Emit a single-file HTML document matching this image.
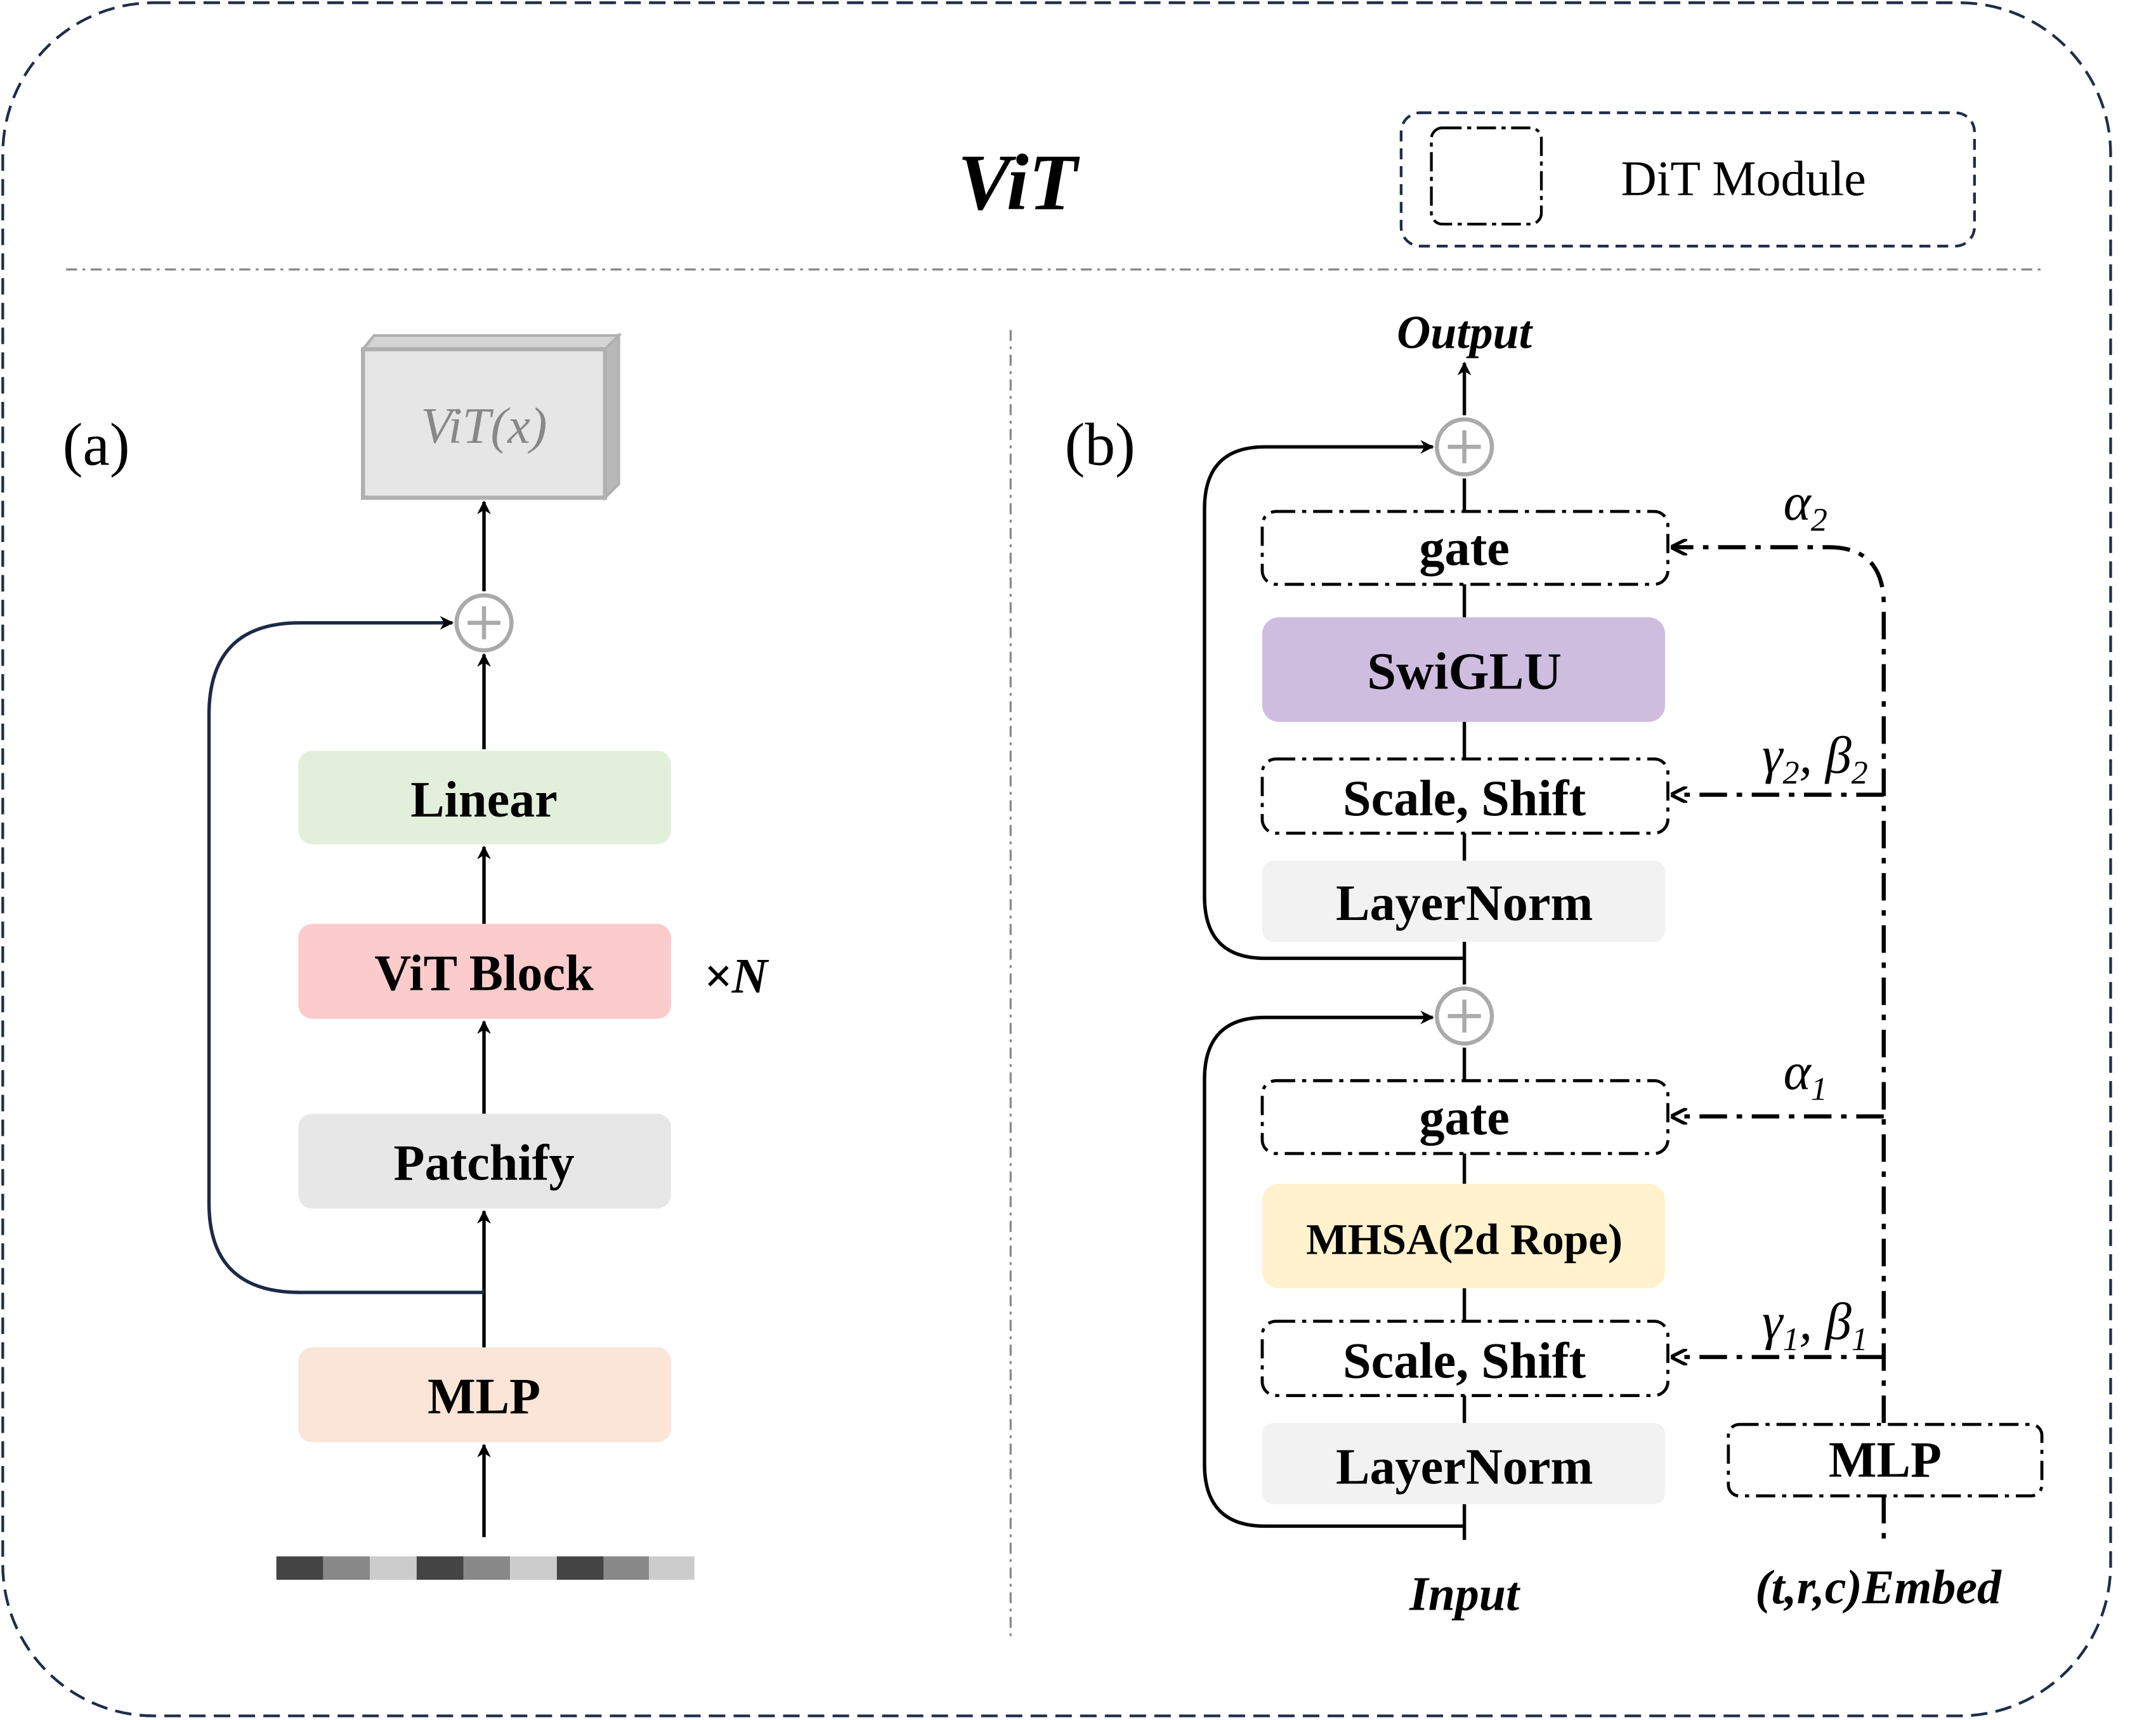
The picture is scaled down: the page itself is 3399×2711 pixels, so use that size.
<!DOCTYPE html>
<html><head><meta charset="utf-8"><style>html,body{margin:0;padding:0;background:#fff}svg{display:block}</style></head><body>
<svg width="3399" height="2711" viewBox="0 0 1568 1251" preserveAspectRatio="none" xmlns="http://www.w3.org/2000/svg" font-family="'Liberation Serif', serif">
<defs>
<marker id="ah" markerWidth="10" markerHeight="10" refX="9" refY="5" orient="auto" markerUnits="userSpaceOnUse"><path d="M0,0 L10,5 L0,10 L3,5 Z" fill="#000"/></marker>
<marker id="ah2" markerWidth="12" markerHeight="12" refX="11" refY="6" orient="auto" markerUnits="userSpaceOnUse"><path d="M0,0 L12,6 L0,12" fill="none" stroke="#000" stroke-width="2.5"/></marker>
</defs>
<rect x="2" y="2" width="1533" height="1246" rx="110" fill="none" stroke="#1f2d4a" stroke-width="2" stroke-dasharray="12,6"/>
<text x="740" y="152" font-size="58" font-weight="bold" font-style="italic" text-anchor="middle">ViT</text>
<rect x="1019" y="82" width="417" height="97" rx="14" fill="none" stroke="#1f2d4a" stroke-width="2" stroke-dasharray="8,5"/>
<rect x="1041" y="93" width="80" height="70" rx="8" fill="none" stroke="#000" stroke-width="2" stroke-dasharray="14,4,3,4"/>
<text x="1268" y="142" font-size="36" text-anchor="middle">DiT Module</text>
<line x1="48" y1="196" x2="1485" y2="196" stroke="#888" stroke-width="1.5" stroke-dasharray="8,4,2,4"/>
<line x1="735" y1="240" x2="735" y2="1190" stroke="#888" stroke-width="1.5" stroke-dasharray="8,4,2,4"/>

<text x="70" y="338" font-size="44" text-anchor="middle">(a)</text>
<polygon points="264,254 272,244 450,244 440,254" fill="#d4d4d4" stroke="#b0b0b0" stroke-width="2"/>
<polygon points="440,254 450,244 450,352 440,362" fill="#b8b8b8" stroke="#b0b0b0" stroke-width="2"/>
<rect x="264" y="254" width="176" height="108" fill="#e6e6e6" stroke="#b0b0b0" stroke-width="3"/>
<text x="352" y="322" font-size="37" font-style="italic" fill="#888" text-anchor="middle">ViT(x)</text>
<g stroke="#000" stroke-width="2.5" fill="none">
<line x1="352" y1="430" x2="352" y2="365" marker-end="url(#ah)"/>
<line x1="352" y1="545" x2="352" y2="476" marker-end="url(#ah)"/>
<line x1="352" y1="672" x2="352" y2="616" marker-end="url(#ah)"/>
<line x1="352" y1="810" x2="352" y2="743" marker-end="url(#ah)"/>
<line x1="352" y1="980" x2="352" y2="881" marker-end="url(#ah)"/>
<line x1="352" y1="1118" x2="352" y2="1051" marker-end="url(#ah)"/>
<path d="M352 940 H218 Q152 940 152 875 V520 Q152 453 218 453 H329" stroke="#1c2a48" marker-end="url(#ah)"/>
</g>
<circle cx="352" cy="453" r="20" fill="#fff" stroke="#aaa" stroke-width="3"/>
<path d="M340 453 H364 M352 441 V465" stroke="#aaa" stroke-width="3"/>
<g font-size="37" font-weight="bold" text-anchor="middle">
<rect x="217" y="546" width="271" height="68" rx="10" fill="#e2efda"/><text x="352" y="594">Linear</text>
<rect x="217" y="672" width="271" height="69" rx="10" fill="#fccbcb"/><text x="352" y="720">ViT Block</text>
<rect x="217" y="810" width="271" height="69" rx="10" fill="#e7e7e7"/><text x="352" y="858">Patchify</text>
<rect x="217" y="980" width="271" height="69" rx="10" fill="#fbe5d6"/><text x="352" y="1028">MLP</text>
</g>
<text x="535" y="722" font-size="36" font-weight="bold" font-style="italic" text-anchor="middle">×N</text>
<g>
<rect x="201" y="1132" width="34" height="17" fill="#444"/><rect x="235" y="1132" width="34" height="17" fill="#888"/><rect x="269" y="1132" width="34" height="17" fill="#ccc"/>
<rect x="303" y="1132" width="34" height="17" fill="#444"/><rect x="337" y="1132" width="34" height="17" fill="#888"/><rect x="371" y="1132" width="34" height="17" fill="#ccc"/>
<rect x="405" y="1132" width="34" height="17" fill="#444"/><rect x="439" y="1132" width="33" height="17" fill="#888"/><rect x="472" y="1132" width="33" height="17" fill="#ccc"/>
</g>

<text x="800" y="338" font-size="44" text-anchor="middle">(b)</text>
<text x="1065" y="253" font-size="34" font-weight="bold" font-style="italic" text-anchor="middle">Output</text>
<g stroke="#000" stroke-width="2.5" fill="none">
<line x1="1065" y1="302" x2="1065" y2="264" marker-end="url(#ah)"/>
<line x1="1065" y1="348" x2="1065" y2="372"/>
<line x1="1065" y1="425" x2="1065" y2="449"/>
<line x1="1065" y1="525" x2="1065" y2="552"/>
<line x1="1065" y1="606" x2="1065" y2="626"/>
<line x1="1065" y1="685" x2="1065" y2="716"/>
<line x1="1065" y1="762" x2="1065" y2="786"/>
<line x1="1065" y1="839" x2="1065" y2="861"/>
<line x1="1065" y1="937" x2="1065" y2="961"/>
<line x1="1065" y1="1015" x2="1065" y2="1035"/>
<line x1="1065" y1="1094" x2="1065" y2="1120"/>
<path d="M1065 697 H920 Q876 697 876 652 V370 Q876 325 920 325 H1042" marker-end="url(#ah)"/>
<path d="M1065 1110 H920 Q876 1110 876 1065 V785 Q876 740 920 740 H1042" marker-end="url(#ah)"/>
</g>
<circle cx="1065" cy="325" r="20" fill="#fff" stroke="#aaa" stroke-width="3"/>
<path d="M1053 325 H1077 M1065 313 V337" stroke="#aaa" stroke-width="3"/>
<circle cx="1065" cy="739" r="20" fill="#fff" stroke="#aaa" stroke-width="3"/>
<path d="M1053 739 H1077 M1065 727 V751" stroke="#aaa" stroke-width="3"/>
<g fill="none" stroke="#000" stroke-width="2.2" stroke-dasharray="14,5,3,5">
<rect x="918" y="372" width="295" height="53" rx="10"/>
<rect x="918" y="552" width="295" height="54" rx="10"/>
<rect x="918" y="786" width="295" height="53" rx="10"/>
<rect x="918" y="961" width="295" height="54" rx="10"/>
<rect x="1257" y="1036" width="228" height="52" rx="8"/>
</g>
<rect x="918" y="449" width="293" height="76" rx="12" fill="#cfbde0"/>
<rect x="918" y="626" width="293" height="59" rx="8" fill="#f2f2f2"/>
<rect x="918" y="861" width="293" height="76" rx="12" fill="#fff2cc"/>
<rect x="918" y="1035" width="293" height="59" rx="8" fill="#f2f2f2"/>
<g font-weight="bold" text-anchor="middle" font-size="37">
<text x="1065" y="411">gate</text>
<text x="1065" y="501" font-size="38">SwiGLU</text>
<text x="1065" y="593">Scale, Shift</text>
<text x="1065" y="669">LayerNorm</text>
<text x="1065" y="825">gate</text>
<text x="1065" y="912" font-size="32">MHSA(2d Rope)</text>
<text x="1065" y="1002">Scale, Shift</text>
<text x="1065" y="1079">LayerNorm</text>
<text x="1371" y="1074">MLP</text>
<text x="1065" y="1171" font-size="35" font-style="italic">Input</text>
<text x="1366" y="1166" font-size="35" font-style="italic">(t,r,c)Embed</text>
</g>
<g stroke="#000" stroke-width="3" fill="none" stroke-dasharray="20,7,4,7">
<path d="M1370 1035 V440 Q1370 398 1330 398 H1216" marker-end="url(#ah2)"/>
<line x1="1370" y1="578" x2="1216" y2="578" marker-end="url(#ah2)"/>
<line x1="1370" y1="812" x2="1216" y2="812" marker-end="url(#ah2)"/>
<line x1="1370" y1="987" x2="1216" y2="987" marker-end="url(#ah2)"/>
<line x1="1370" y1="1088" x2="1370" y2="1122"/>
</g>
<g font-size="38" font-style="italic" text-anchor="middle">
<text x="1313" y="378">α<tspan font-size="24" dy="8">2</tspan></text>
<text x="1320" y="562">γ<tspan font-size="24" dy="8">2</tspan><tspan dy="-8">, β</tspan><tspan font-size="24" dy="8">2</tspan></text>
<text x="1313" y="792">α<tspan font-size="24" dy="8">1</tspan></text>
<text x="1320" y="974">γ<tspan font-size="24" dy="8">1</tspan><tspan dy="-8">, β</tspan><tspan font-size="24" dy="8">1</tspan></text>
</g>
</svg>
</body></html>
